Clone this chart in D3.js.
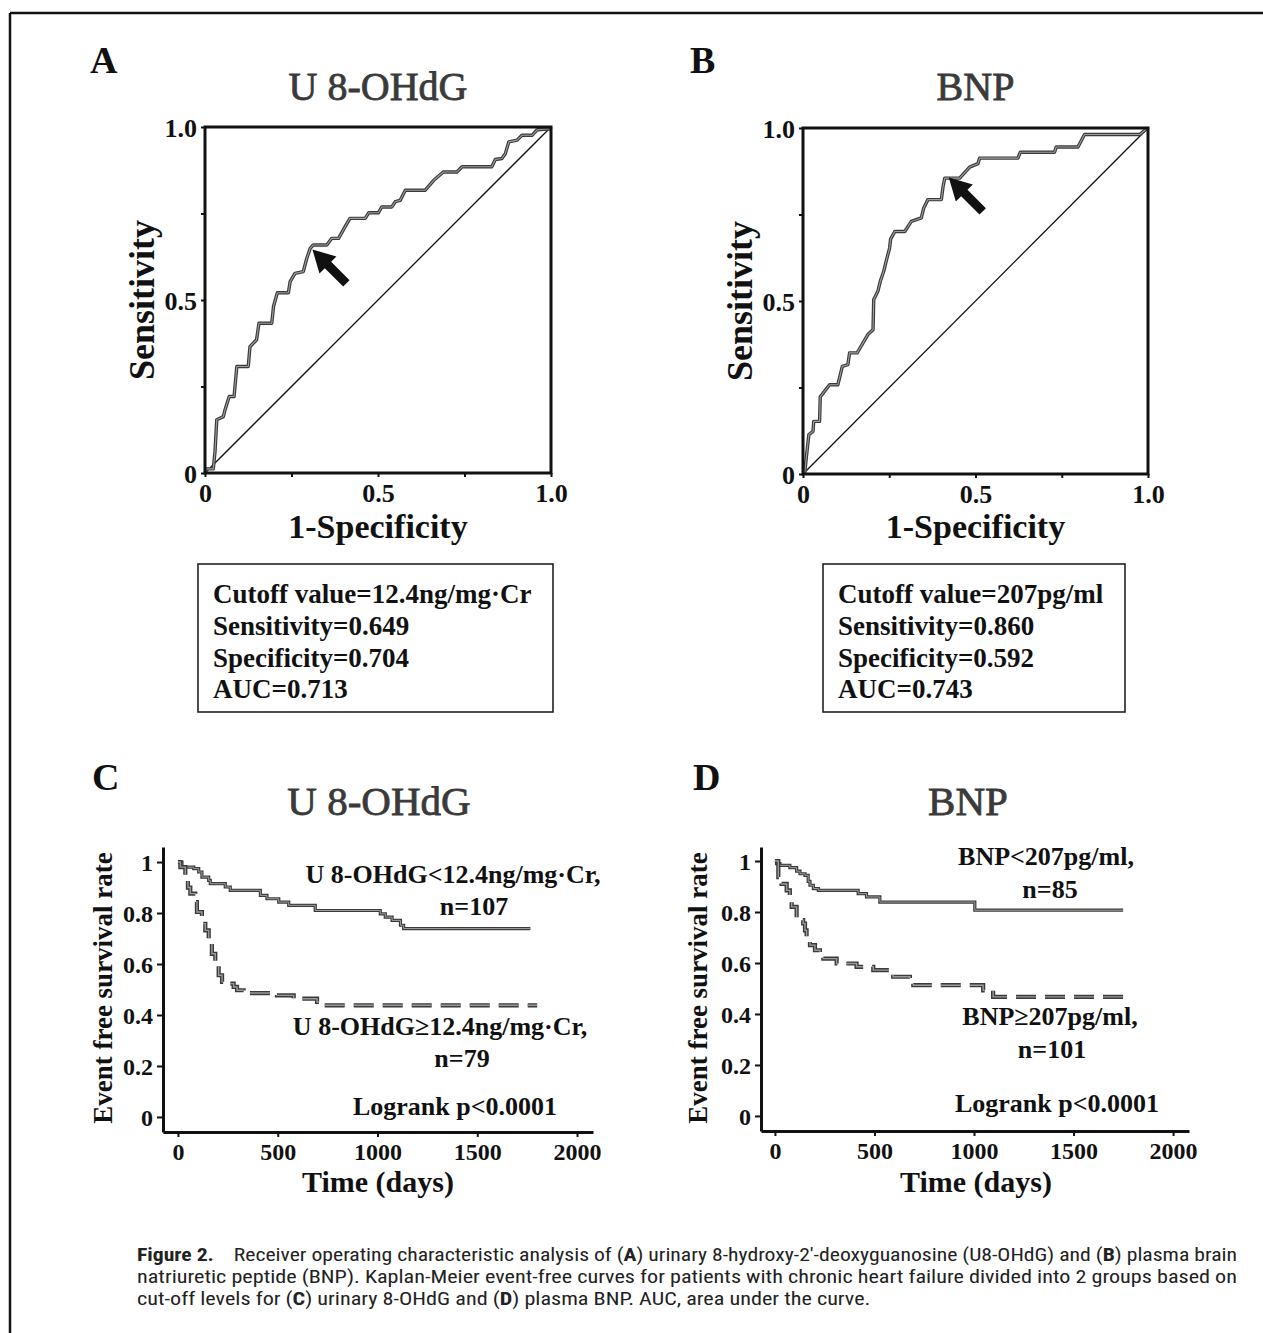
<!DOCTYPE html>
<html><head><meta charset="utf-8">
<script src="https://cdn.jsdelivr.net/npm/d3@7"></script>
<style>body{margin:0;background:#fff} svg{display:block}</style>
</head><body><svg id="c" width="1263" height="1333"></svg>
<script>
// ---------------- DATA ----------------
const rocTicks = [0, 0.25, 0.5, 0.75, 1];
const rocTickLabels = {0: "0", 0.5: "0.5", 1: "1.0"};
// ROC A: [1-specificity, sensitivity]
const rocA = [[0,0],[0.005,0.012],[0.024,0.012],[0.029,0.063],[0.034,0.154],[0.053,0.163],[0.058,0.183],[0.070,0.221],[0.084,0.221],[0.092,0.308],[0.125,0.308],[0.130,0.365],[0.149,0.385],[0.156,0.433],[0.193,0.433],[0.198,0.481],[0.209,0.521],[0.241,0.521],[0.246,0.553],[0.260,0.577],[0.284,0.582],[0.294,0.620],[0.304,0.649],[0.313,0.659],[0.352,0.659],[0.366,0.678],[0.386,0.678],[0.405,0.712],[0.419,0.736],[0.463,0.736],[0.473,0.752],[0.501,0.752],[0.511,0.769],[0.540,0.769],[0.550,0.784],[0.564,0.788],[0.579,0.817],[0.636,0.817],[0.661,0.846],[0.689,0.870],[0.728,0.870],[0.743,0.885],[0.829,0.885],[0.839,0.906],[0.858,0.909],[0.868,0.923],[0.878,0.957],[0.902,0.962],[0.916,0.976],[0.945,0.976],[0.960,0.992],[0.998,0.995],[1,1]];
// ROC B
const rocB = [[0,0],[0.005,0.003],[0.010,0.051],[0.017,0.114],[0.029,0.123],[0.031,0.152],[0.048,0.152],[0.050,0.223],[0.077,0.258],[0.101,0.258],[0.114,0.311],[0.130,0.316],[0.135,0.350],[0.157,0.350],[0.174,0.379],[0.188,0.403],[0.203,0.417],[0.205,0.504],[0.217,0.528],[0.224,0.557],[0.234,0.586],[0.242,0.619],[0.251,0.653],[0.254,0.679],[0.266,0.701],[0.295,0.701],[0.314,0.730],[0.343,0.740],[0.350,0.769],[0.362,0.793],[0.401,0.793],[0.406,0.831],[0.411,0.855],[0.454,0.855],[0.483,0.887],[0.507,0.897],[0.512,0.913],[0.623,0.913],[0.630,0.930],[0.729,0.930],[0.734,0.945],[0.797,0.945],[0.816,0.981],[0.976,0.981],[0.995,0.997],[1,1]];
const cutoffA = [0.296, 0.649];
const cutoffB = [0.408, 0.860];
const boxTextA = ["Cutoff value=12.4ng/mg·Cr", "Sensitivity=0.649", "Specificity=0.704", "AUC=0.713"];
const boxTextB = ["Cutoff value=207pg/ml", "Sensitivity=0.860", "Specificity=0.592", "AUC=0.743"];

const kmTimeTicks = [0, 500, 1000, 1500, 2000];
const kmSurvTicks = [0, 0.2, 0.4, 0.6, 0.8, 1];
// Kaplan-Meier: [days, survival]
const kmC_low = [[0,1.0],[20,0.98],[79,0.974],[104,0.961],[120,0.941],[154,0.928],[162,0.915],[237,0.902],[262,0.889],[413,0.869],[446,0.856],[505,0.843],[555,0.830],[688,0.810],[1014,0.797],[1039,0.784],[1073,0.771],[1115,0.752],[1131,0.739],[1766,0.739]];
const kmC_high = [[0,1.0],[12,0.98],[37,0.935],[50,0.90],[62,0.876],[87,0.843],[95,0.804],[120,0.758],[137,0.732],[154,0.686],[170,0.64],[187,0.60],[204,0.556],[221,0.53],[246,0.523],[279,0.51],[296,0.497],[329,0.486],[496,0.477],[580,0.464],[697,0.451],[714,0.438],[1800,0.438]];
const kmD_low = [[0,1.0],[8,0.99],[25,0.983],[75,0.974],[109,0.96],[126,0.95],[151,0.944],[167,0.92],[176,0.905],[193,0.892],[218,0.885],[418,0.872],[460,0.859],[527,0.839],[1004,0.807],[1749,0.807]];
const kmD_high = [[0,1.0],[17,0.937],[33,0.91],[59,0.885],[75,0.852],[84,0.82],[109,0.768],[142,0.755],[151,0.728],[159,0.696],[176,0.67],[201,0.65],[226,0.63],[243,0.617],[310,0.598],[410,0.585],[494,0.572],[594,0.546],[678,0.525],[695,0.513],[1046,0.493],[1096,0.467],[1749,0.467]];
const labelsC = ["U 8-OHdG<12.4ng/mg·Cr,", "n=107", "U 8-OHdG≥12.4ng/mg·Cr,", "n=79", "Logrank p<0.0001"];
const labelsD = ["BNP<207pg/ml,", "n=85", "BNP≥207pg/ml,", "n=101", "Logrank p<0.0001"];

// ---------------- DRAW ----------------
const SERIF = "'Liberation Serif','Times New Roman',Times,serif";
const svg = d3.select("#c");

// frame
svg.append("line").attr("x1",10).attr("y1",13).attr("x2",1263).attr("y2",13).attr("stroke","#111").attr("stroke-width",2.5);
svg.append("line").attr("x1",10).attr("y1",13).attr("x2",10).attr("y2",1333).attr("stroke","#111").attr("stroke-width",2.5);

function txt(g, s, x, y, size, opts={}) {
  const t = g.append("text").attr("x",x).attr("y",y).text(s)
    .attr("font-family",SERIF).attr("font-size",size)
    .attr("font-weight",opts.weight||"bold").attr("fill",opts.fill||"#111")
    .attr("text-anchor",opts.anchor||"start");
  if (opts.stroke) t.attr("stroke",opts.stroke).attr("stroke-width",opts.sw||0.7);
  if (opts.rotate) t.attr("transform",`rotate(-90,${x},${y})`);
  return t;
}

function rocPanel(cfg) {
  const g = svg.append("g");
  const x = d3.scaleLinear([0,1],[cfg.x0, cfg.x0+cfg.w]);
  const y = d3.scaleLinear([0,1],[cfg.y0+cfg.h, cfg.y0]);
  const ax = g.append("g").attr("transform",`translate(0,${cfg.y0+cfg.h})`)
    .call(d3.axisBottom(x).tickValues(rocTicks).tickSize(4).tickPadding(7).tickFormat(d=>rocTickLabels[d]||""));
  const ay = g.append("g").attr("transform",`translate(${cfg.x0},0)`)
    .call(d3.axisLeft(y).tickValues(rocTicks).tickSize(4).tickPadding(4).tickFormat(d=>rocTickLabels[d]||""));
  [ax,ay].forEach(a=>{
    a.select(".domain").remove();
    a.selectAll("line").attr("stroke","#111").attr("stroke-width",2);
    a.selectAll("text").attr("font-family",SERIF).attr("font-size",26).attr("font-weight","bold").attr("fill","#111");
  });
  ay.selectAll("text").attr("dy","0.36em");
  g.append("line").attr("x1",x(0)).attr("y1",y(0)).attr("x2",x(1)).attr("y2",y(1)).attr("stroke","#111").attr("stroke-width",1.3);
  const line = d3.line().x(d=>x(d[0])).y(d=>y(d[1]));
  g.append("path").datum(cfg.data).attr("d",line).attr("fill","none").attr("stroke","#3a3a3a").attr("stroke-width",3.4).attr("stroke-linejoin","round");
  g.append("path").datum(cfg.data).attr("d",line).attr("fill","none").attr("stroke","#a0a0a0").attr("stroke-width",1.1).attr("stroke-linejoin","round");
  g.append("rect").attr("x",x(0)).attr("y",y(1)).attr("width",x(1)-x(0)).attr("height",y(0)-y(1))
    .attr("fill","none").attr("stroke","#111").attr("stroke-width",3);
  const tx = x(cfg.cut[0])+5, ty = y(cfg.cut[1])+1;
  g.append("path").attr("d","M0,0 L22,-12 L22,-4.5 L48,-4.5 L48,4.5 L22,4.5 L22,12 Z")
    .attr("fill","#111").attr("transform",`translate(${tx},${ty}) rotate(45)`);
  txt(g, cfg.letter, cfg.letterX, 73, 38);
  txt(g, cfg.title, cfg.x0+cfg.w/2, 100, 40, {weight:"normal", anchor:"middle", fill:"#3a3a3a", stroke:"#3a3a3a", sw:0.8});
  txt(g, "Sensitivity", cfg.x0-51, cfg.y0+cfg.h/2, 36, {anchor:"middle", rotate:true});
  txt(g, "1-Specificity", cfg.x0+cfg.w/2, 538, 34, {anchor:"middle"});
  g.append("rect").attr("x",cfg.bx).attr("y",564).attr("width",cfg.bw).attr("height",148)
    .attr("fill","none").attr("stroke","#222").attr("stroke-width",1.6);
  cfg.box.forEach((s,i)=>txt(g, s, cfg.bx+15, 603+i*31.8, 27));
}

rocPanel({x0:205, y0:127, w:346, h:346, data:rocA, cut:cutoffA, letter:"A", letterX:90, title:"U 8-OHdG", box:boxTextA, bx:198, bw:355});
rocPanel({x0:803, y0:128, w:345, h:346, data:rocB, cut:cutoffB, letter:"B", letterX:690, title:"BNP", box:boxTextB, bx:823, bw:302});

function kmPanel(cfg) {
  const g = svg.append("g");
  const x = d3.scaleLinear(cfg.xd, cfg.xr);
  const y = d3.scaleLinear(cfg.yd, cfg.yr);
  const ax = g.append("g").attr("transform",`translate(0,${cfg.yr[0]})`)
    .call(d3.axisBottom(x).tickValues(kmTimeTicks).tickSize(5).tickSizeOuter(0).tickPadding(6).tickFormat(d3.format("d")));
  const ay = g.append("g").attr("transform",`translate(${cfg.xr[0]},0)`)
    .call(d3.axisLeft(y).tickValues(kmSurvTicks).tickSize(6).tickSizeOuter(0).tickPadding(4).tickFormat(d3.format("~g")));
  [ax,ay].forEach(a=>{
    a.select(".domain").attr("stroke","#111").attr("stroke-width",3);
    a.selectAll(".tick line").attr("stroke","#111").attr("stroke-width",2);
    a.selectAll("text").attr("font-family",SERIF).attr("font-size",24).attr("font-weight","bold").attr("fill","#111");
  });
  ay.selectAll("text").attr("dy","0.36em");
  const line = d3.line().curve(d3.curveStepAfter).x(d=>x(d[0])).y(d=>y(d[1]));
  g.append("path").datum(cfg.low).attr("d",line).attr("fill","none").attr("stroke","#3a3a3a").attr("stroke-width",3.2);
  g.append("path").datum(cfg.low).attr("d",line).attr("fill","none").attr("stroke","#a0a0a0").attr("stroke-width",1);
  g.append("path").datum(cfg.high).attr("d",line).attr("fill","none").attr("stroke","#3a3a3a").attr("stroke-width",4.2).attr("stroke-dasharray","20,9");
  g.append("path").datum(cfg.high).attr("d",line).attr("fill","none").attr("stroke","#9a9a9a").attr("stroke-width",1.4).attr("stroke-dasharray","20,9");
  txt(g, cfg.letter, cfg.letterX, 790, 38);
  txt(g, cfg.title, cfg.titleX, 815, 41, {weight:"normal", anchor:"middle", fill:"#3a3a3a", stroke:"#3a3a3a", sw:0.8});
  txt(g, "Event free survival rate", cfg.ylabX, 988, 27, {anchor:"middle", rotate:true});
  txt(g, "Time (days)", cfg.tlabX, 1192, 30, {anchor:"middle"});
  cfg.labels.forEach((s,i)=>txt(g, s, cfg.lx[i], cfg.ly[i], 26, {anchor:"middle"}));
}

kmPanel({xd:[-75,2080], xr:[163,593], yd:[-0.059,1.059], yr:[1132,847], low:kmC_low, high:kmC_high,
  letter:"C", letterX:92, title:"U 8-OHdG", titleX:379, ylabX:112, tlabX:378, labels:labelsC,
  lx:[453,474,440,462,455], ly:[883,915,1035,1067,1115]});
kmPanel({xd:[-70,2080], xr:[761,1189], yd:[-0.059,1.055], yr:[1131,847], low:kmD_low, high:kmD_high,
  letter:"D", letterX:693, title:"BNP", titleX:968, ylabX:707, tlabX:976, labels:labelsD,
  lx:[1046,1050,1050,1052,1057], ly:[865,898,1025,1058,1112]});

// caption
const CAP = "'Liberation Sans Narrow','Roboto Condensed','Liberation Sans',Arial,sans-serif";
const capLines = [
  [["Figure 2.",1],["    Receiver operating characteristic analysis of (",0],["A",1],[") urinary 8-hydroxy-2′-deoxyguanosine (U8-OHdG) and (",0],["B",1],[") plasma brain",0]],
  [["natriuretic peptide (BNP). Kaplan-Meier event-free curves for patients with chronic heart failure divided into 2 groups based on",0]],
  [["cut-off levels for (",0],["C",1],[") urinary 8-OHdG and (",0],["D",1],[") plasma BNP. AUC, area under the curve.",0]]
];
const capEls = capLines.map((parts,i)=>{
  const t = svg.append("text").attr("x",137).attr("y",1261+i*22).attr("font-family",CAP).attr("font-size",18)
    .attr("fill","#222").style("white-space","pre");
  parts.forEach(p=>t.append("tspan").text(p[0]).attr("font-weight",p[1]?"bold":"normal"));
  return t;
});
const nat2 = capEls[1].node().getComputedTextLength();
const ratio = 1100/nat2;
capEls[0].attr("textLength",1100).attr("lengthAdjust","spacingAndGlyphs");
capEls[1].attr("textLength",1100).attr("lengthAdjust","spacingAndGlyphs");
capEls[2].attr("textLength",capEls[2].node().getComputedTextLength()*ratio).attr("lengthAdjust","spacingAndGlyphs");
</script></body></html>
